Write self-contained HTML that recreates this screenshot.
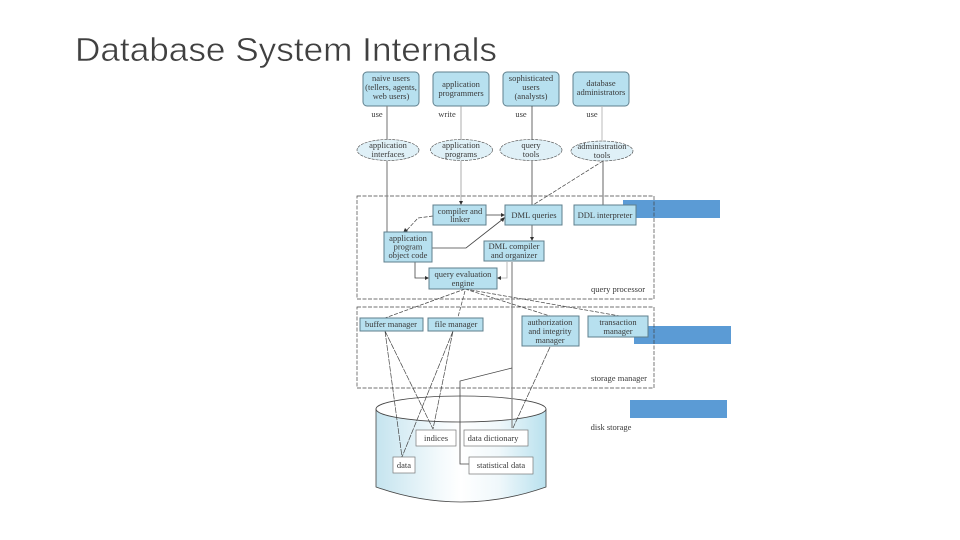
<!DOCTYPE html>
<html><head><meta charset="utf-8"><style>
html,body{margin:0;padding:0;background:#fff;width:960px;height:540px;overflow:hidden}
svg{display:block}
.t{font-family:"Liberation Serif",serif;font-size:8.5px;fill:#3a3a3a;text-anchor:middle}
.b{fill:#b7e0ef;stroke:#5f7f8c;stroke-width:1}
.l{stroke:#444;stroke-width:.8;fill:none}
.d{stroke:#444;stroke-width:.7;fill:none;stroke-dasharray:4 1.5}
.g{stroke:#888;stroke-width:1.2;fill:none}
.a{fill:#333}
</style></head><body>
<svg width="960" height="540" viewBox="0 0 960 540" xmlns="http://www.w3.org/2000/svg">
<defs>
<linearGradient id="c" x1="0" x2="1" y1="0" y2="0">
<stop offset="0" stop-color="#c5e4ef"/><stop offset=".38" stop-color="#f4fafc"/><stop offset=".5" stop-color="#fff"/><stop offset=".72" stop-color="#f0f8fb"/><stop offset="1" stop-color="#b9e1ee"/>
</linearGradient>
<filter id="bl"><feGaussianBlur stdDeviation=".35"/></filter>
</defs>
<text x="75" y="61" font-family="'Liberation Sans',sans-serif" font-size="33" fill="#404040" stroke="#fff" stroke-width=".5" textLength="422" lengthAdjust="spacingAndGlyphs">Database System Internals</text>
<rect x="623" y="200" width="97" height="18" fill="#5b9bd5"/>
<rect x="634" y="326" width="97" height="18" fill="#5b9bd5"/>
<g filter="url(#bl)">
<path d="M376 409V487Q461 517 546 487V409Z" fill="url(#c)" stroke="#444" stroke-width=".8"/>
<ellipse cx="461" cy="409" rx="85" ry="13" fill="#fff" stroke="#444" stroke-width=".8"/>

<rect class="d" x="357" y="196" width="297" height="103"/>
<rect class="d" x="357" y="307" width="297" height="81"/>

<g class="b">
<rect x="363" y="72" width="56" height="34" rx="4"/><rect x="433" y="72" width="56" height="34" rx="4"/><rect x="503" y="72" width="56" height="34" rx="4"/><rect x="573" y="72" width="56" height="34" rx="4"/>
</g>
<g fill="#dff0f7" stroke="#444" stroke-width=".6" stroke-dasharray="3 1">
<ellipse cx="388" cy="150" rx="31" ry="10.5"/><ellipse cx="461.5" cy="150" rx="31" ry="10.5"/><ellipse cx="531" cy="150" rx="31" ry="10.5"/><ellipse cx="602" cy="151" rx="31" ry="10"/>
</g>

<path class="g" d="M387 106V140M387 161V232"/>
<path class="l" d="M461 106V140M461 161V202" style="stroke:#999"/><path class="a" d="M459 201h4l-2 4z"/>
<path class="l" d="M532 106V140M532 161V205"/>
<path d="M602 106V142" stroke="#bbb" fill="none"/>
<path d="M603 161V205" stroke="#999" stroke-width="1.5" fill="none"/>
<path class="d" d="M603 161L533 205"/>

<path class="l" d="M486 215H502"/><path class="a" d="M501 213v4l4-2z"/>
<path class="d" d="M433 216L418 218L407 230"/><path class="a" d="M403 233l2-5 3 3z"/>
<path class="l" d="M432 248H466L503 219"/><path class="a" d="M505 217l-2 5-3-3z"/>
<path class="l" d="M532 225V238"/><path class="a" d="M530 237h4l-2 4z"/>
<path class="l" d="M415 262V278H426"/><path class="a" d="M425 276v4l4-2z"/>
<path d="M507 262V278H500" stroke="#aaa" stroke-width=".8" fill="none"/><path class="a" d="M501 276v4l-4-2z"/>
<path class="g" d="M512 262V428"/>

<path class="d" d="M465 289L385 318M465 291L458 317M465 289L550 316M465 289L620 316"/>

<path class="d" d="M385 331L402 457M385 331L433 429M453 331L402 457M453 331L433 429M550 347L513 428" style="stroke-dasharray:6 1"/>
<path class="l" d="M512 368L460 381V464H469"/>

<rect class="b" x="433" y="205" width="53" height="20"/>
<rect class="b" x="505" y="205" width="57" height="20"/>
<rect class="b" x="574" y="205" width="62" height="20"/>
<rect class="b" x="384" y="232" width="48" height="30"/>
<rect class="b" x="484" y="241" width="60" height="20"/>
<rect class="b" x="429" y="268" width="68" height="21"/>
<rect class="b" x="360" y="318" width="63" height="13"/>
<rect class="b" x="428" y="318" width="55" height="13"/>
<rect class="b" x="522" y="316" width="57" height="30"/>
<rect class="b" x="588" y="316" width="60" height="21"/>

<g fill="#fff" stroke="#777" stroke-width=".7">
<rect x="416" y="430" width="40" height="16"/><rect x="464" y="430" width="64" height="16"/><rect x="393" y="457" width="22" height="16"/><rect x="469" y="457" width="64" height="17"/>
</g>

<g class="t">
<text x="391" y="81">naive users</text><text x="391" y="90">(tellers, agents,</text><text x="391" y="99">web users)</text>
<text x="461" y="87">application</text><text x="461" y="96">programmers</text>
<text x="531" y="81">sophisticated</text><text x="531" y="90">users</text><text x="531" y="99">(analysts)</text>
<text x="601" y="86">database</text><text x="601" y="95">administrators</text>
<text x="377" y="117">use</text><text x="447" y="117">write</text><text x="521" y="117">use</text><text x="592" y="117">use</text>
<text x="388" y="148">application</text><text x="388" y="157">interfaces</text>
<text x="461" y="148">application</text><text x="461" y="157">programs</text>
<text x="531" y="148">query</text><text x="531" y="157">tools</text>
<text x="602" y="149">administration</text><text x="602" y="158">tools</text>
<text x="460" y="214">compiler and</text><text x="460" y="222">linker</text>
<text x="534" y="218">DML queries</text>
<text x="605" y="218">DDL interpreter</text>
<text x="408" y="241">application</text><text x="408" y="249.500">program</text><text x="408" y="258">object code</text>
<text x="514" y="249">DML compiler</text><text x="514" y="258">and organizer</text>
<text x="463" y="277">query evaluation</text><text x="463" y="286">engine</text>
<text x="618" y="292">query processor</text>
<text x="391" y="327">buffer manager</text>
<text x="456" y="327">file manager</text>
<text x="550" y="325">authorization</text><text x="550" y="334">and integrity</text><text x="550" y="343">manager</text>
<text x="618" y="325">transaction</text><text x="618" y="334">manager</text>
<text x="619" y="381">storage manager</text>
<text x="436" y="441">indices</text>
<text x="493" y="441">data dictionary</text>
<text x="404" y="468">data</text>
<text x="501" y="468">statistical data</text>
<text x="611" y="430">disk storage</text>
</g>
</g>
<rect x="630" y="400" width="97" height="18" fill="#5b9bd5"/>
</svg>
</body></html>
